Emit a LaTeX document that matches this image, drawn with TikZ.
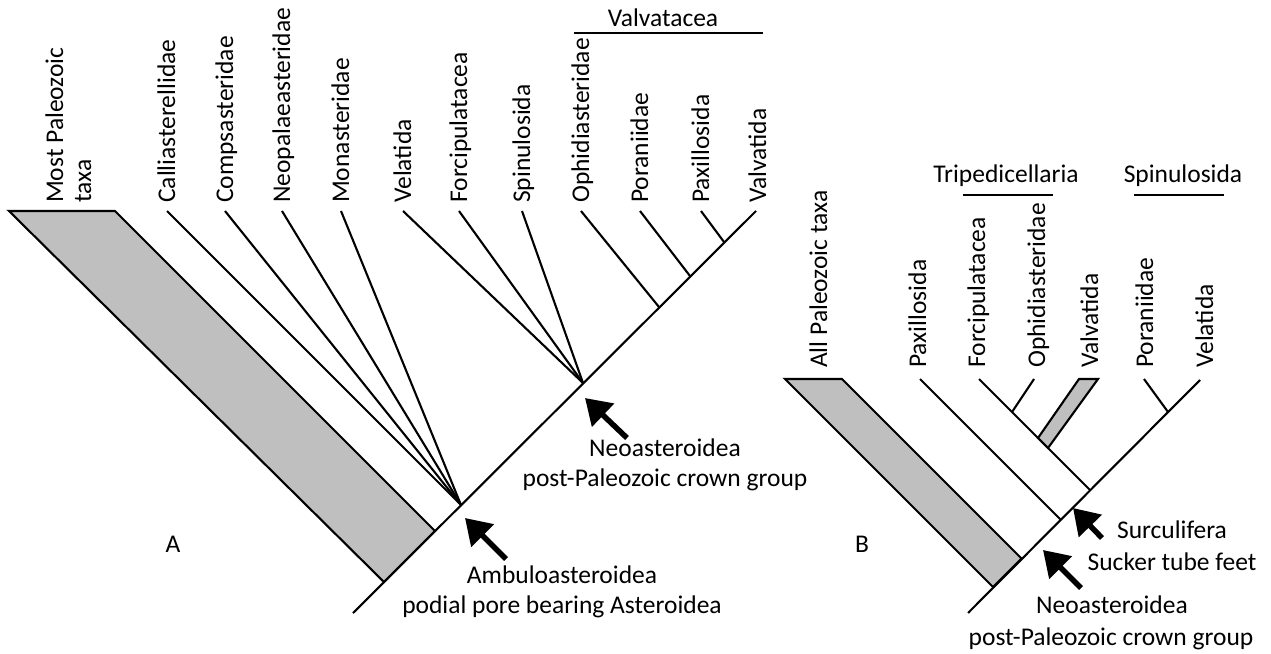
\documentclass[tikz,border=0pt]{standalone}
\usepackage{fontspec}
\setmainfont{Carlito}
\usetikzlibrary{arrows.meta}
\definecolor{fillgray}{RGB}{191,191,191}
\begin{document}
\begin{tikzpicture}[x=1pt,y=-1pt,
  br/.style={line width=2.1pt},
  grayband/.style={line width=2.1pt, fill=fillgray, line join=miter},
  lab/.style={rotate=90, anchor=base west, inner sep=0pt, font=\fontsize{25.5}{30}\selectfont},
  txt/.style={anchor=base, inner sep=0pt, font=\fontsize{25.5}{30}\selectfont},
  bigarrow/.style={line width=5.5pt, -{Triangle[length=25pt,width=31pt]}}]
\useasboundingbox (0,0) rectangle (1271,653);

% ---------------- Panel A ----------------
\coordinate (Aroot) at (353,613);
\coordinate (Atop) at (756,211);
\coordinate (Ag1) at (9,211);
\coordinate (Ag2) at (115,211);
\coordinate (Ag3) at (435,531);
\coordinate (Ag4) at (384,582);
\coordinate (Amb) at (461,505);
\coordinate (Neo) at (583,383);
\coordinate (Ophn) at (659,307);
\coordinate (Porn) at (690,276);
\coordinate (Paxn) at (724,242);
\coordinate (tCal) at (167,211);
\coordinate (tCom) at (225,211);
\coordinate (tNeop) at (282,211);
\coordinate (tMon) at (341,211);
\coordinate (tVel) at (403,211);
\coordinate (tFor) at (459,211);
\coordinate (tSpi) at (522,211);
\coordinate (tOph) at (581,211);
\coordinate (tPor) at (640,211);
\coordinate (tPax) at (701,211);

\draw[grayband] (Ag1) -- (Ag2) -- (Ag3) -- (Ag4) -- cycle;
\draw[br] (Aroot) -- (Atop);
\foreach \t in {tCal,tCom,tNeop,tMon} \draw[br] (Amb) -- (\t);
\foreach \t in {tVel,tFor,tSpi} \draw[br] (Neo) -- (\t);
\draw[br] (Ophn) -- (tOph);
\draw[br] (Porn) -- (tPor);
\draw[br] (Paxn) -- (tPax);

\node[lab] (lMost) at (63,203) {Most Paleozoic};
\node[lab] (lTaxa) at (91,203) {taxa};
\node[lab] (lCal) at (175,203) {Calliasterellidae};
\node[lab] (lCom) at (233,203) {Compsasteridae};
\node[lab] (lNeop) at (290,203) {Neopalaeasteridae};
\node[lab] (lMon) at (349,203) {Monasteridae};
\node[lab] (lVel) at (411,203) {Velatida};
\node[lab] (lFor) at (467,203) {Forcipulatacea};
\node[lab] (lSpi) at (530,203) {Spinulosida};
\node[lab] (lOph) at (589,203) {Ophidiasteridae};
\node[lab] (lPor) at (648,203) {Poraniidae};
\node[lab] (lPax) at (709,203) {Paxillosida};
\node[lab] (lVal) at (766,203) {Valvatida};

\node[txt] (hValv) at (663,27) {Valvatacea};
\coordinate (bV1) at (574,33);
\coordinate (bV2) at (763,33);
\draw[br] (bV1) -- (bV2);

\coordinate (ambTail) at (506,559);
\coordinate (ambTip) at (465,518);
\draw[bigarrow] (ambTail) -- (ambTip);
\coordinate (neoTail) at (627,438);
\coordinate (neoTip) at (585,398);
\draw[bigarrow] (neoTail) -- (neoTip);

\node[txt] (tAmb1) at (562,583) {Ambuloasteroidea};
\node[txt] (tAmb2) at (562,613) {podial pore bearing Asteroidea};
\node[txt] (tNeo1) at (665,456) {Neoasteroidea};
\node[txt] (tNeo2) at (665,486) {post-Paleozoic crown group};
\node[txt] (letA) at (173,552) {A};

% ---------------- Panel B ----------------
\coordinate (Broot) at (968,613);
\coordinate (Btop) at (1200,380);
\coordinate (Bg1) at (785,379);
\coordinate (Bg2) at (842,379);
\coordinate (Bg3) at (1021.5,558.5);
\coordinate (Bg4) at (993,587);
\coordinate (BPaxn) at (1060.5,519.5);
\coordinate (BPax) at (920,379);
\coordinate (BForn) at (1090,490);
\coordinate (BFor) at (979,379);
\coordinate (BOphn) at (1012,412);
\coordinate (BOph) at (1034,379);
\coordinate (BV1) at (1079,379);
\coordinate (BV2) at (1098,379);
\coordinate (BV3) at (1048,448);
\coordinate (BV4) at (1038,438);
\coordinate (BPorn) at (1168,412);
\coordinate (BPor) at (1144,379);

\draw[grayband] (Bg1) -- (Bg2) -- (Bg3) -- (Bg4) -- cycle;
\draw[grayband] (BV1) -- (BV2) -- (BV3) -- (BV4) -- cycle;
\draw[br] (Broot) -- (Btop);
\draw[br] (BPaxn) -- (BPax);
\draw[br] (BForn) -- (BFor);
\draw[br] (BOphn) -- (BOph);
\draw[br] (BPorn) -- (BPor);

\node[lab] (lBAll) at (827,368) {All Paleozoic taxa};
\node[lab] (lBPax) at (926,368) {Paxillosida};
\node[lab] (lBFor) at (985,368) {Forcipulatacea};
\node[lab] (lBOph) at (1045,368) {Ophidiasteridae};
\node[lab] (lBVal) at (1098,368) {Valvatida};
\node[lab] (lBPor) at (1153,368) {Poraniidae};
\node[lab] (lBVel) at (1213,368) {Velatida};

\node[txt] (hTri) at (1006,182) {Tripedicellaria};
\node[txt] (hSpi) at (1183,182) {Spinulosida};
\coordinate (bT1) at (963,195);
\coordinate (bT2) at (1053,195);
\coordinate (bS1) at (1134,195);
\coordinate (bS2) at (1224,195);
\draw[br] (bT1) -- (bT2);
\draw[br] (bS1) -- (bS2);

\coordinate (surTail) at (1102,538);
\coordinate (surTip) at (1073,508);
\draw[bigarrow] (surTail) -- (surTip);
\coordinate (neoBTail) at (1081,588);
\coordinate (neoBTip) at (1043,550);
\draw[bigarrow] (neoBTail) -- (neoBTip);

\node[txt] (tSur1) at (1172,538) {Surculifera};
\node[txt] (tSur2) at (1172,570) {Sucker tube feet};
\node[txt] (tNeoB1) at (1112,613) {Neoasteroidea};
\node[txt] (tNeoB2) at (1111,645) {post-Paleozoic crown group};
\node[txt] (letB) at (862,552) {B};
\end{tikzpicture}
\end{document}
